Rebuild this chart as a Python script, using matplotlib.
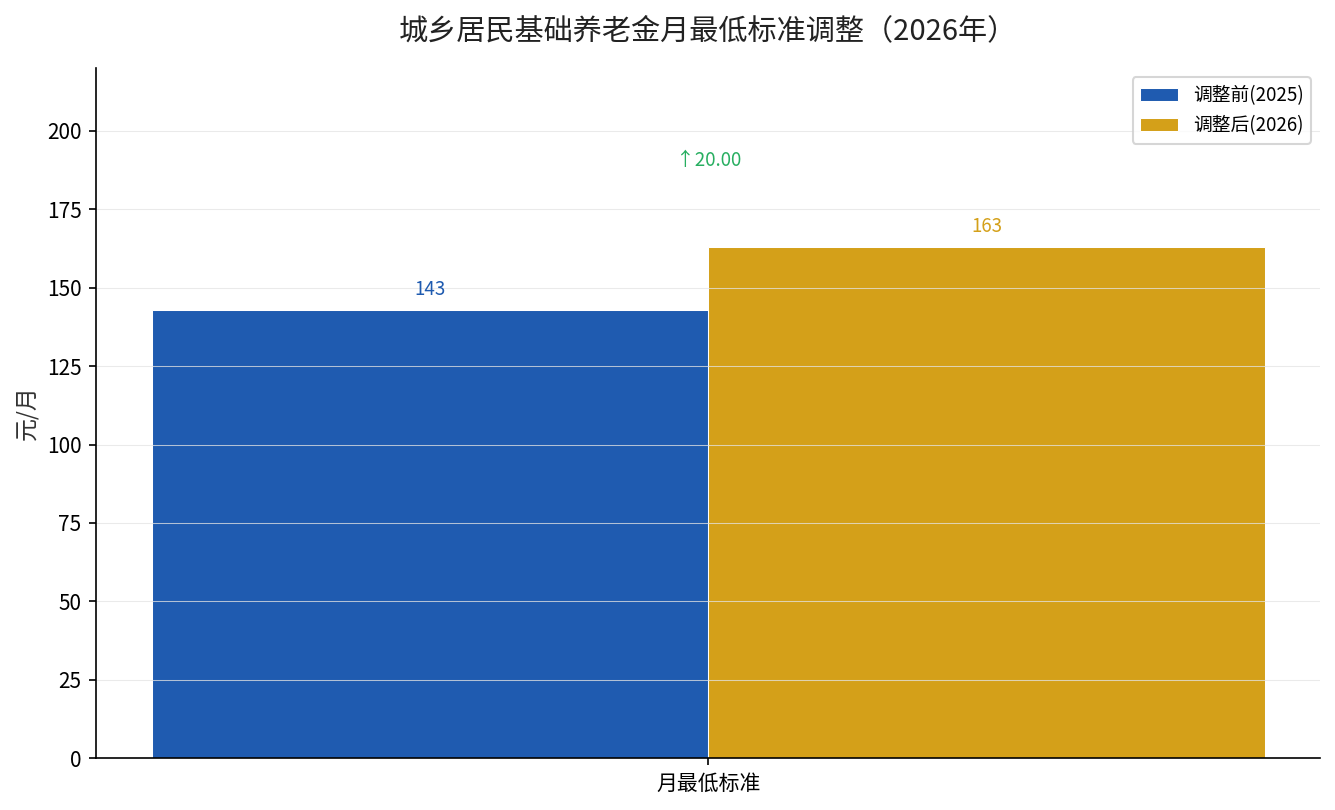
import matplotlib
matplotlib.use('Agg')
import numpy as np
from matplotlib import pyplot as plt

plt.rcParams['font.family'] = ['Noto Sans CJK SC', 'DejaVu Sans']
plt.rcParams['axes.unicode_minus'] = False

categories = ['月最低标准']
series_names = ['调整前(2025)', '调整后(2026)']
before = [143]
after = [163]
diff_label = '↑20.00'

blue = '#1f5bb0'
gold = '#d4a019'
green = '#27ae60'

fig, ax = plt.subplots(figsize=(8.9, 5.4), dpi=150)
fig.subplots_adjust(left=0.072, right=0.989, top=0.916, bottom=0.064)

x = np.arange(len(categories))
w = 0.35
b1 = ax.bar(x - w/2, before, w, color=blue, edgecolor='white', linewidth=0.5, label=series_names[0])
b2 = ax.bar(x + w/2, after, w, color=gold, edgecolor='white', linewidth=0.5, label=series_names[1])

ymax = max(before + after) * 1.35
ax.set_ylim(0, ymax)

for bars, col in ((b1, blue), (b2, gold)):
    for r in bars:
        ax.text(r.get_x() + r.get_width()/2, r.get_height() + ymax*0.014, f'{r.get_height():.0f}',
                ha='center', va='bottom', fontsize=9, color=col)

for i in range(len(categories)):
    top = max(before[i], after[i])
    ax.text(x[i], top * 1.17, diff_label, ha='center', va='center', fontsize=9, color=green)

ax.set_xticks(x)
ax.set_xticklabels(categories, fontsize=10)
ax.tick_params(axis='y', labelsize=10)
ax.set_ylabel('元/月', fontsize=11, color='#333333')
ax.set_title('城乡居民基础养老金月最低标准调整（2026年）', fontsize=14, pad=14, color='#222222')

ax.yaxis.grid(True, color='#e4e4e4', linewidth=0.5, alpha=0.75)
ax.spines['top'].set_visible(False)
ax.spines['right'].set_visible(False)

ax.legend(loc='upper right', fontsize=9)

fig.savefig('out.png', dpi=150)
